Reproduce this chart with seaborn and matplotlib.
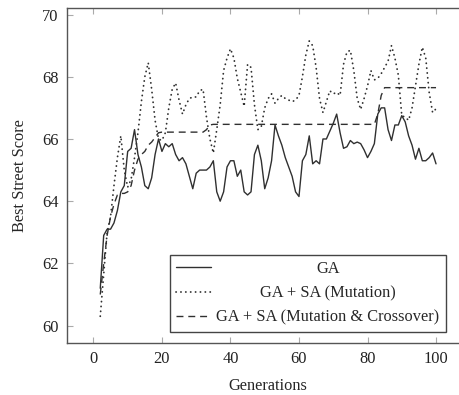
import numpy as np
import pandas as pd
import matplotlib
matplotlib.use('Agg')
import matplotlib.pyplot as plt
import seaborn as sns

# Data
generations = list(range(2, 101))

ga = [61.2, 62.9, 63.1, 63.1, 63.3, 63.7, 64.3, 64.5, 65.6, 65.7,
      66.3, 65.5, 65.1, 64.5, 64.4, 64.75, 65.5, 66.0, 65.6, 65.85,
      65.75, 65.85, 65.5, 65.3, 65.4, 65.2, 64.8, 64.4, 64.9, 65.0,
      65.0, 65.0, 65.1, 65.3, 64.3, 64.0, 64.3, 65.1, 65.3, 65.3,
      64.8, 65.0, 64.3, 64.2, 64.3, 65.5, 65.8, 65.3, 64.4, 64.75,
      65.3, 66.45, 66.1, 65.8, 65.4, 65.1, 64.8, 64.3, 64.15, 65.3,
      65.5, 66.1, 65.2, 65.3, 65.2, 66.0, 66.0, 66.25, 66.5, 66.8,
      66.2, 65.7, 65.75, 65.95, 65.85, 65.9, 65.85, 65.65, 65.4, 65.6,
      65.85, 66.8, 67.0, 67.0, 66.3, 65.95, 66.45, 66.45, 66.75, 66.55,
      66.1, 65.8, 65.35, 65.7, 65.3, 65.3, 65.4, 65.55, 65.2]

ga_sa_mut = [60.3, 61.65, 63.0, 63.5, 64.5, 65.4, 66.1, 65.0, 64.45, 64.7,
             65.4, 66.2, 67.2, 68.0, 68.45, 67.6, 66.6, 66.0, 65.95, 66.2,
             67.0, 67.6, 67.8, 67.25, 66.8, 67.1, 67.3, 67.35, 67.35, 67.55,
             67.6, 66.7, 66.0, 65.55, 66.3, 67.1, 68.2, 68.6, 68.9, 68.6,
             67.95, 67.5, 67.05, 68.4, 68.3, 67.1, 66.3, 66.4, 67.0, 67.3,
             67.45, 67.15, 67.3, 67.4, 67.3, 67.25, 67.2, 67.25, 67.4, 68.0,
             68.7, 69.15, 69.0, 68.3, 67.3, 66.85, 67.2, 67.55, 67.45, 67.5,
             67.4, 68.4, 68.8, 68.85, 68.2, 67.3, 66.95, 67.3, 67.7, 68.2,
             67.9, 67.95, 68.1, 68.3, 68.5, 69.0, 68.6, 68.05, 66.75, 66.7,
             66.6, 67.0, 67.7, 68.4, 68.95, 68.6, 67.5, 66.85, 66.97]

ga_sa_mut_cross = [61.0, 62.0, 62.9, 63.5, 63.9, 64.2, 64.25, 64.25, 64.3, 64.5,
                   65.0, 65.35, 65.5, 65.6, 65.8, 65.9, 66.05, 66.2, 66.22, 66.22,
                   66.22, 66.22, 66.22, 66.22, 66.22, 66.22, 66.22, 66.22, 66.22, 66.22,
                   66.22, 66.3, 66.45, 66.47, 66.47, 66.47, 66.47, 66.47, 66.47, 66.47,
                   66.47, 66.47, 66.47, 66.47, 66.47, 66.47, 66.47, 66.47, 66.47, 66.47,
                   66.47, 66.47, 66.47, 66.47, 66.47, 66.47, 66.47, 66.47, 66.47, 66.47,
                   66.47, 66.47, 66.47, 66.47, 66.47, 66.47, 66.47, 66.47, 66.47, 66.47,
                   66.47, 66.47, 66.47, 66.47, 66.47, 66.47, 66.47, 66.47, 66.47, 66.47,
                   66.47, 66.8, 67.4, 67.65, 67.65, 67.65, 67.65, 67.65, 67.65, 67.65,
                   67.65, 67.65, 67.65, 67.65, 67.65, 67.65, 67.65, 67.65, 67.65]

labels = ['GA', 'GA + SA (Mutation)', 'GA + SA (Mutation & Crossover)']

df = pd.DataFrame({'gen': generations, 'ga': ga,
                   'mut': ga_sa_mut, 'mutcross': ga_sa_mut_cross})

sns.set_style('ticks')
plt.rcParams['font.family'] = ['Liberation Serif', 'DejaVu Serif']
plt.rcParams['font.size'] = 11.8

fig = plt.figure(figsize=(4.59, 3.95), dpi=100)
ax = fig.add_axes([0.1453, 0.1316, 0.8778, 0.8473])

line_color = '#303030'
sns.lineplot(data=df, x='gen', y='ga', ax=ax, color=line_color, lw=1.0,
             label=labels[0], linestyle='-')
sns.lineplot(data=df, x='gen', y='mut', ax=ax, color=line_color, lw=1.3,
             label=labels[1], linestyle=(0, (0.1, 2.6)), dash_capstyle='round')
sns.lineplot(data=df, x='gen', y='mutcross', ax=ax, color=line_color, lw=1.0,
             label=labels[2], linestyle=(0, (5, 3.5)))

ax.set_xlim(-7.8, 109.8)
ax.set_ylim(59.44, 70.2)
ax.set_xticks([0, 20, 40, 60, 80, 100])
ax.set_yticks([60, 62, 64, 66, 68, 70])
ax.set_xlabel('Generations', labelpad=8)
ax.set_ylabel('Best Street Score', labelpad=10)

for s in ax.spines.values():
    s.set_color('#555555')
    s.set_linewidth(1.0)
ax.tick_params(direction='in', length=4.5, width=0.8, color='#aaaaaa',
               top=True, right=True, pad=6, labelcolor='#222222')

leg = ax.legend(loc='lower right', bbox_to_anchor=(0.9414, 0.0329),
                borderaxespad=0, fancybox=False, framealpha=1,
                edgecolor='#444444', handlelength=2.1, labelspacing=0.5,
                handletextpad=0.35, borderpad=0.4)
leg.get_frame().set_linewidth(1.0)

# centre the legend texts in their column, like the original
fig.canvas.draw()
r = fig.canvas.get_renderer()
texts = leg.get_texts()
widths = [t.get_window_extent(r).width for t in texts]
wmax = max(widths)
for t, w in zip(texts, widths):
    t.set_position(((wmax - w) / 2, 0))

fig.savefig('out.png', dpi=100)
